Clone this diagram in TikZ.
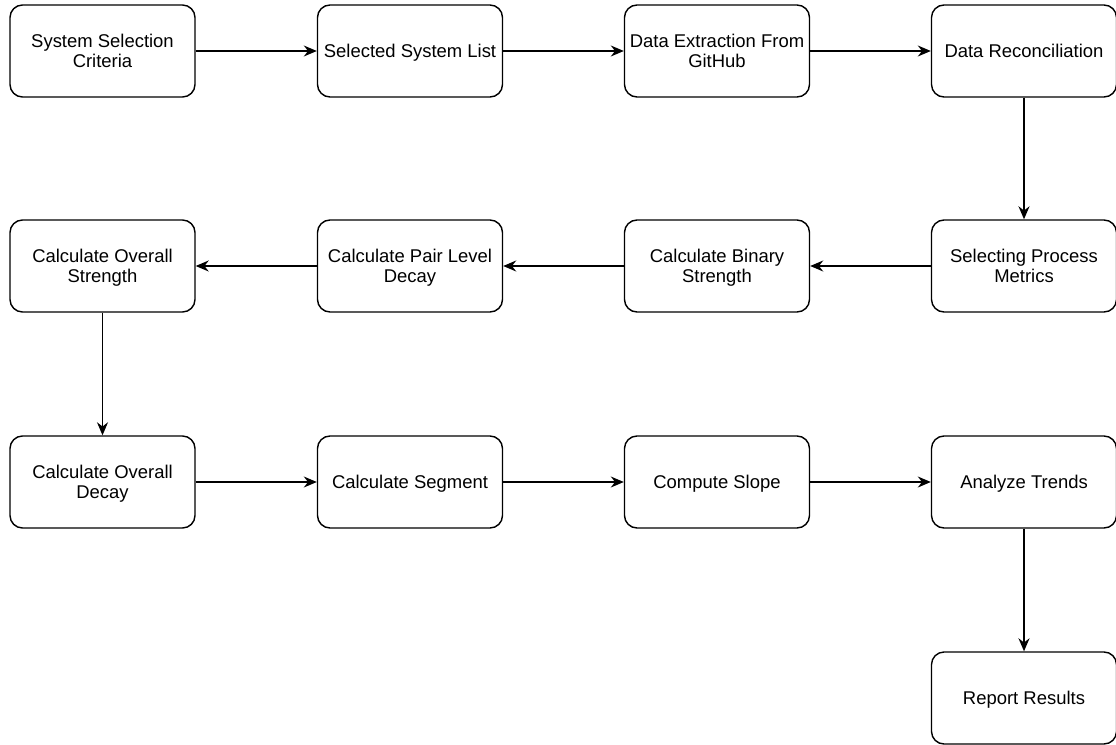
\documentclass[tikz,border=0pt]{standalone}
\usepackage{fontspec}
\setmainfont{Liberation Sans}
\usetikzlibrary{arrows.meta,positioning}

\begin{document}
\begin{tikzpicture}[
    stage/.style={rectangle,rounded corners=0.25cm,draw,line width=0.8pt,minimum width=3.7cm,minimum height=1.84cm,align=center,font=\fontsize{10.5pt}{11.6pt}\selectfont,inner sep=1pt,text depth=0pt},
    flow/.style={-{Stealth[length=2.6mm,width=2.2mm]},line width=0.8pt}
]
    \useasboundingbox (0,0) rectangle (22.32,14.88);

    % Row 1
    \node[stage] (criteria) at (2.05, 13.86) {System Selection\\Criteria};
    \node[stage] (syslist) at (8.2, 13.86) {Selected System List};
    \node[stage] (extract) at (14.34, 13.86) {Data Extraction From\\GitHub};
    \node[stage] (reconcile) at (20.48, 13.86) {Data Reconciliation};
    \draw[flow] (criteria) -- (syslist);
    \draw[flow] (syslist) -- (extract);
    \draw[flow] (extract) -- (reconcile);

    % Row 2
    \node[stage] (metrics) at (20.48, 9.56) {Selecting Process\\Metrics};
    \node[stage] (binary) at (14.34, 9.56) {Calculate Binary\\Strength};
    \node[stage] (pairdecay) at (8.2, 9.56) {Calculate Pair Level\\Decay};
    \node[stage] (strength) at (2.05, 9.56) {Calculate Overall\\Strength};
    \draw[flow] (reconcile) -- (metrics);
    \draw[flow] (metrics) -- (binary);
    \draw[flow] (binary) -- (pairdecay);
    \draw[flow] (pairdecay) -- (strength);

    % Row 3
    \node[stage] (decay) at (2.05, 5.24) {Calculate Overall\\Decay};
    \node[stage] (segment) at (8.2, 5.24) {Calculate Segment};
    \node[stage] (slope) at (14.34, 5.24) {Compute Slope};
    \node[stage] (trends) at (20.48, 5.24) {Analyze Trends};
    \draw[flow] (strength) -- (decay);
    \draw[flow] (decay) -- (segment);
    \draw[flow] (segment) -- (slope);
    \draw[flow] (slope) -- (trends);

    % Report
    \node[stage] (report) at (20.48, 0.92) {Report Results};
    \draw[flow] (trends) -- (report);
\end{tikzpicture}
\end{document}
